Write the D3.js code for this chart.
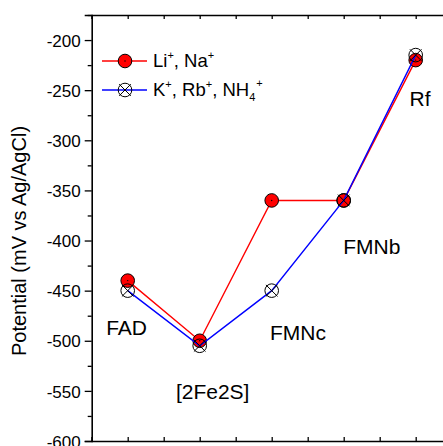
<!DOCTYPE html>
<html>
<head>
<meta charset="utf-8">
<script src="https://cdn.jsdelivr.net/npm/d3@7"></script>
<style>
  html, body { margin: 0; padding: 0; background: #fff; }
  svg { display: block; }
  text { font-family: "Liberation Sans", Arial, Helvetica, sans-serif; fill: #000; }
</style>
</head>
<body>
<svg id="chart" width="443" height="446"></svg>
<script>
// ---- data ----
const categories = ["FAD", "[2Fe2S]", "FMNc", "FMNb", "Rf"];
const categoryX = [1, 3, 5, 7, 9];
const liNa = [-440, -500, -360, -360, -220];
const kRbNH4 = [-450, -505, -450, -360, -215];
const yTicks = [-600, -550, -500, -450, -400, -350, -300, -250, -200];
const yMinorTicks = [-575, -525, -475, -425, -375, -325, -275, -225, -175];
const xTicks = [0, 1, 2, 3, 4, 5, 6, 7, 8, 9, 10];
// label anchor points (data units)
const labelX = [0.97, 3.36, 5.73, 7.78, 9.12];
const labelY = [-494, -558, -499, -413, -266];

(function () {
const svg = d3.select("#chart");
const mLeft = 91.7, mRight = 451.7, mTop = 15, mBottom = 441;
const x = d3.scaleLinear().domain([0, 10]).range([mLeft, mRight]);
const y = d3.scaleLinear().domain([-600, -175]).range([mBottom, mTop]);

// axes
const gLeft = svg.append("g").attr("transform", `translate(${mLeft},0)`)
  .call(d3.axisLeft(y).tickValues(yTicks).tickSize(7).tickPadding(4).tickFormat(d => String(d)));
gLeft.selectAll("text").style("font-size", "17px").attr("dy", "0.36em")
  .style("font-family", "'Liberation Sans', Arial, sans-serif");
svg.append("g").attr("transform", `translate(${mLeft},0)`)
  .call(d3.axisLeft(y).tickValues(yMinorTicks).tickSize(4).tickFormat(""))
  .select(".domain").remove();

svg.append("g").attr("transform", `translate(0,${mBottom})`)
  .call(d3.axisTop(x).tickValues(xTicks).tickSize(4).tickFormat(""));
svg.append("g").attr("transform", `translate(0,${mTop})`)
  .call(d3.axisBottom(x).tickValues(xTicks).tickSize(4).tickFormat(""));

svg.selectAll(".domain").attr("stroke", "#000").attr("stroke-width", 1.6);
svg.selectAll(".tick line").attr("stroke", "#000").attr("stroke-width", 1.3);

// y title
svg.append("text")
  .attr("transform", "translate(26,241) rotate(-90)")
  .attr("text-anchor", "middle")
  .style("font-size", "20px")
  .text("Potential (mV vs Ag/AgCl)");

const line = d3.line().x((d, i) => x(categoryX[i])).y(d => y(d));
const R = 6.8;

function drawCircle(g, cx, cy) {
  g.append("circle").attr("cx", cx).attr("cy", cy).attr("r", R)
    .attr("fill", "#ff0000").attr("stroke", "#000").attr("stroke-width", 1);
  g.append("circle").attr("cx", cx).attr("cy", cy).attr("r", 0.7).attr("fill", "#000");
}
function drawCross(g, cx, cy) {
  g.append("circle").attr("cx", cx).attr("cy", cy).attr("r", R)
    .attr("fill", "none").attr("stroke", "#000").attr("stroke-width", 1);
  const a = 5.8;
  g.append("path")
    .attr("d", `M${cx - a},${cy - a}L${cx + a},${cy + a}M${cx - a},${cy + a}L${cx + a},${cy - a}`)
    .attr("stroke", "#000").attr("stroke-width", 1).attr("fill", "none");
}

// series 1
svg.append("path").attr("d", line(liNa)).attr("fill", "none")
  .attr("stroke", "#ff0000").attr("stroke-width", 1.4);
const g1 = svg.append("g");
liNa.forEach((v, i) => drawCircle(g1, x(categoryX[i]), y(v)));

// series 2
svg.append("path").attr("d", line(kRbNH4)).attr("fill", "none")
  .attr("stroke", "#0000ff").attr("stroke-width", 1.4);
const g2 = svg.append("g");
kRbNH4.forEach((v, i) => drawCross(g2, x(categoryX[i]), y(v)));

// category labels
categories.forEach((c, i) => {
  svg.append("text").attr("x", x(labelX[i])).attr("y", y(labelY[i]))
    .attr("text-anchor", "middle").style("font-size", "21px").text(c);
});

// legend
const lg = svg.append("g");
lg.append("line").attr("x1", 102).attr("x2", 147).attr("y1", 61).attr("y2", 61)
  .attr("stroke", "#ff0000").attr("stroke-width", 1.4);
drawCircle(lg, 125, 61);
lg.append("line").attr("x1", 102).attr("x2", 147).attr("y1", 90).attr("y2", 90)
  .attr("stroke", "#0000ff").attr("stroke-width", 1.4);
drawCross(lg, 125, 90);

const t1 = lg.append("text").attr("x", 153).attr("y", 67).style("font-size", "18.5px");
t1.append("tspan").text("Li");
t1.append("tspan").attr("dy", -8).style("font-size", "11px").text("+");
t1.append("tspan").attr("dy", 8).text(", Na");
t1.append("tspan").attr("dy", -8).style("font-size", "11px").text("+");

const t2 = lg.append("text").attr("x", 153).attr("y", 96).style("font-size", "18.5px");
t2.append("tspan").text("K");
t2.append("tspan").attr("dy", -8).style("font-size", "11px").text("+");
t2.append("tspan").attr("dy", 8).text(", Rb");
t2.append("tspan").attr("dy", -8).style("font-size", "11px").text("+");
t2.append("tspan").attr("dy", 8).text(", NH");
t2.append("tspan").attr("dy", 5).style("font-size", "11px").text("4");
t2.append("tspan").attr("dy", -14).attr("dx", 1).style("font-size", "11px").text("+");
})();
</script>
</body>
</html>
